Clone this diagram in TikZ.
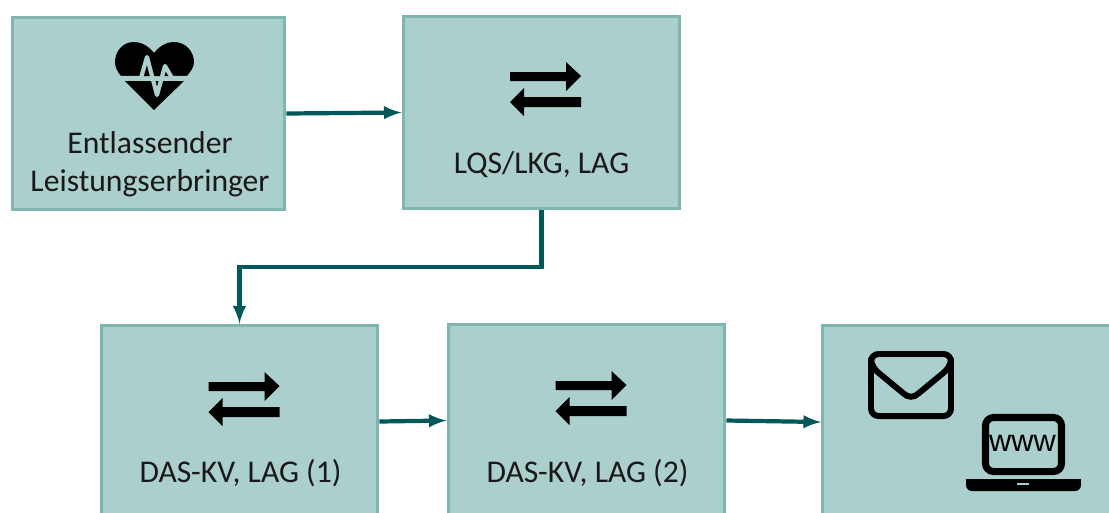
\documentclass[tikz,border=0pt]{standalone}
\usepackage{fontspec}
\setmainfont{Carlito}
\newfontfamily\wwwfont{Liberation Sans}
\definecolor{boxfill}{HTML}{ABCFCC}
\definecolor{boxedge}{HTML}{80B5B0}
\definecolor{linkcol}{HTML}{00585A}
\tikzstyle{line} = [draw=linkcol, line width=2.4pt, -latex]
\tikzstyle{box} = [draw=boxedge, fill=boxfill, line width=1.7pt, inner sep=0pt, minimum width=5.54cm, minimum height=3.86cm]
\tikzstyle{label} = [font=\fontsize{18}{21.5}\selectfont, text=black!90, align=center, inner sep=0pt]
\tikzset{
	swaparrows/.pic={
		\fill[black] (-35.5,-17) -- (20.5,-17) -- (20.5,-27) -- (35.5,-13) -- (20.5,2) -- (20.5,-8) -- (-35.5,-8) -- cycle;
		\fill[black] (35.5,8) -- (-21.5,8) -- (-21.5,-1) -- (-35.5,13) -- (-21.5,27) -- (-21.5,18) -- (35.5,18) -- cycle;
	}
}
\begin{document}
\begin{tikzpicture}[x=0.02cm, y=-0.02cm]
	
	\path[use as bounding box, clip] (0,0) rectangle (1109,512);
	
	\node[box, minimum width=5.46cm] (sender) at (148.5,113.5) {};
	\node[box] (lqs) at (541.5,112.5) {};
	\node[box] (das1) at (239.5,421.5) {};
	\node[box] (das2) at (586.5,420.5) {};
	\node[box, anchor=west, minimum width=7cm] (output) at (821,422) {};
	
	\node[label] (sendertext) at (150,164.5) {Entlassender\\Leistungserbringer};
	\node[label] (lqstext) at (541.5,164.5) {LQS/LKG, LAG};
	\node[label] (das1text) at (240.5,473.5) {DAS-KV, LAG (1)};
	\node[label] (das2text) at (587.5,473.5) {DAS-KV, LAG (2)};
	
	% heart
	\fill[black] (154,53) .. controls (147,44) and (139,42) .. (134,42) .. controls (122,42) and (115,52) .. (115,62) .. controls (115,67) and (117,71) .. (121,76) -- (187,76) .. controls (191,71) and (194,67) .. (194,62) .. controls (194,52) and (186,42) .. (174,42) .. controls (169,42) and (161,44) .. (154,53) -- cycle;
	\fill[black] (125,81) -- (184,81) -- (154,110) -- cycle;
	\draw[boxfill, line width=2.4pt, line join=round] (118,78) -- (141,78) -- (147,57) -- (157,95) -- (165,66) -- (172,78) -- (192,78);
	
	\pic at (545.5,89) {swaparrows};
	\pic at (244,399) {swaparrows};
	\pic at (591,398) {swaparrows};
	
	% envelope
	\draw[black, line width=3.4pt, rounded corners=1.5mm] (871,354) rectangle (951,416);
	\draw[black, line width=3.4pt] (871,358) .. controls (871,366) and (876,371) .. (880,374) -- (903,393) .. controls (908,398) and (914,398) .. (919,393) -- (942,374) .. controls (946,371) and (951,366) .. (951,358);
	
	% laptop
	\draw[black, line width=4pt, rounded corners=1.6mm] (985.5,417.5) rectangle (1061.5,471.5);
	\fill[black, rounded corners=1.2mm] (966,479) -- (966,491) -- (1081,491) -- (1081,479) -- cycle;
	\fill[black] (966,479) rectangle (1081,484);
	\fill[boxfill] (1017,483) rectangle (1029,485);
	\node[font=\wwwfont\fontsize{17.5}{18}\selectfont, inner sep=0pt] (wwwtext) at (1022.5,443) {www};
	
	\path[line] (sender.east) -- (lqs.west);
	\coordinate (bend) at (541.5,267);
	\path[line] (lqs.south) -- (bend) -| (das1.north);
	\path[line] (das1.east) -- (das2.west);
	\path[line] (das2.east) -- (output.west);
	
\end{tikzpicture}
\end{document}
